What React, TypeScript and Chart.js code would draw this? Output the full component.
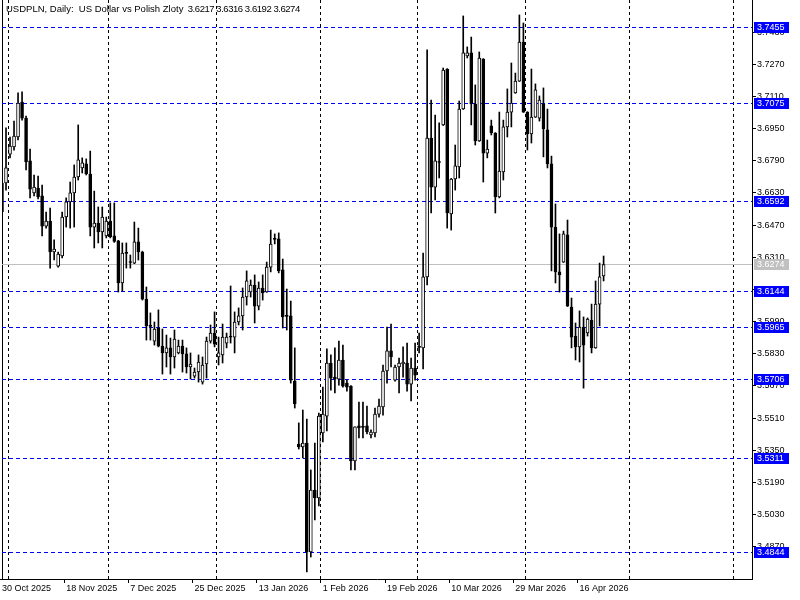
import React, { useEffect, useRef } from 'react';
import { Chart, registerables } from 'chart.js';

Chart.register(...registerables);

// ---------- data (USDPLN daily) ----------
const opens = [
  3.6679, 3.6679, 3.6823, 3.6858, 3.6908, 3.7082, 3.7002, 3.6789, 3.6630, 3.6654,
  3.6615, 3.6465, 3.6490, 3.6336, 3.6266, 3.6316, 3.6510, 3.6585, 3.6630, 3.6709,
  3.6754, 3.6774, 3.6724, 3.6460, 3.6480, 3.6436, 3.6416, 3.6490, 3.6416, 3.6391,
  3.6182, 3.6331, 3.6286, 3.6281, 3.6386, 3.6336, 3.6102, 3.5968, 3.5893, 3.5958,
  3.5868, 3.5834, 3.5859, 3.5814, 3.5834, 3.5868, 3.5829, 3.5764, 3.5719, 3.5739,
  3.5689, 3.5779, 3.5893, 3.5933, 3.5814, 3.5824, 3.5883, 3.5918, 3.5913, 3.5988,
  3.6018, 3.6112, 3.6137, 3.6172, 3.6067, 3.6157, 3.6137, 3.6261, 3.6401, 3.6401,
  3.6247, 3.6018, 3.6018, 3.5694, 3.5381, 3.5366, 3.5386, 3.4844, 3.5152, 3.5113,
  3.5436, 3.5520, 3.5784, 3.5714, 3.5704, 3.5799, 3.5684, 3.5669, 3.5297, 3.5471,
  3.5466, 3.5471, 3.5426, 3.5436, 3.5530, 3.5565, 3.5744, 3.5844, 3.5699, 3.5764,
  3.5779, 3.5784, 3.5679, 3.5759, 3.5864, 3.5859, 3.6212, 3.6903, 3.6659, 3.6784,
  3.6968, 3.7246, 3.6525, 3.6699, 3.6759, 3.7047, 3.7311, 3.7326, 3.7072, 3.6888,
  3.7296, 3.6828, 3.6963, 3.6928, 3.6610, 3.6734, 3.6958, 3.7032, 3.7127, 3.7186,
  3.7380, 3.7032, 3.6923, 3.7007, 3.7002, 3.7072, 3.6943, 3.6774, 3.6460, 3.6237,
  3.6286, 3.6421, 3.6062, 3.5918, 3.5864, 3.5963, 3.5933, 3.5998, 3.5859, 3.6077,
  3.6217,
];

const highs = [
  3.6719, 3.6953, 3.6908, 3.6987, 3.7127, 3.7132, 3.7012, 3.6848, 3.6719, 3.6714,
  3.6669, 3.6535, 3.6555, 3.6396, 3.6336, 3.6535, 3.6605, 3.6684, 3.6769, 3.6968,
  3.6804, 3.6799, 3.6838, 3.6639, 3.6560, 3.6560, 3.6510, 3.6580, 3.6580, 3.6394,
  3.6381, 3.6381, 3.6321, 3.6485, 3.6455, 3.6340, 3.6162, 3.6033, 3.5988, 3.6048,
  3.5953, 3.5923, 3.5908, 3.5948, 3.5898, 3.5898, 3.5859, 3.5834, 3.5759, 3.5824,
  3.5814, 3.5913, 3.5973, 3.6038, 3.5913, 3.5978, 3.5933, 3.6167, 3.6038, 3.6058,
  3.6157, 3.6242, 3.6197, 3.6222, 3.6187, 3.6222, 3.6286, 3.6445, 3.6426, 3.6431,
  3.6301, 3.6152, 3.6092, 3.5859, 3.5486, 3.5550, 3.5505, 3.5252, 3.5386, 3.5535,
  3.5664, 3.5854, 3.5824, 3.5859, 3.5893, 3.5873, 3.5699, 3.5672, 3.5466, 3.5590,
  3.5590, 3.5570, 3.5451, 3.5560, 3.5605, 3.5774, 3.5963, 3.5978, 3.5774, 3.5809,
  3.5864, 3.5883, 3.5809, 3.5883, 3.5933, 3.6331, 3.7341, 3.7092, 3.7017, 3.6978,
  3.7251, 3.7248, 3.6702, 3.6868, 3.7087, 3.7510, 3.7356, 3.7405, 3.7167, 3.7331,
  3.7298, 3.6893, 3.6992, 3.6930, 3.7032, 3.6992, 3.7147, 3.7276, 3.7226, 3.7515,
  3.7475, 3.7034, 3.7246, 3.7172, 3.7112, 3.7152, 3.7047, 3.6813, 3.6575, 3.6426,
  3.6440, 3.6495, 3.6107, 3.5983, 3.6043, 3.6013, 3.6008, 3.6077, 3.6192, 3.6281,
  3.6316,
];

const lows = [
  3.6520, 3.6644, 3.6804, 3.6843, 3.6893, 3.6992, 3.6744, 3.6605, 3.6615, 3.6600,
  3.6416, 3.6455, 3.6256, 3.6296, 3.6261, 3.6306, 3.6460, 3.6455, 3.6460, 3.6694,
  3.6729, 3.6719, 3.6416, 3.6356, 3.6381, 3.6356, 3.6406, 3.6406, 3.6384, 3.6137,
  3.6142, 3.6256, 3.6256, 3.6278, 3.6296, 3.6097, 3.5898, 3.5898, 3.5873, 3.5864,
  3.5729, 3.5764, 3.5729, 3.5759, 3.5829, 3.5739, 3.5734, 3.5704, 3.5709, 3.5689,
  3.5679, 3.5709, 3.5883, 3.5864, 3.5774, 3.5784, 3.5859, 3.5883, 3.5834, 3.5973,
  3.5948, 3.6072, 3.6112, 3.5983, 3.6048, 3.6097, 3.6135, 3.6237, 3.6376, 3.6232,
  3.5958, 3.5948, 3.5684, 3.5560, 3.5356, 3.5312, 3.4745, 3.4819, 3.5003, 3.5073,
  3.5391, 3.5446, 3.5649, 3.5635, 3.5674, 3.5664, 3.5644, 3.5252, 3.5252, 3.5411,
  3.5411, 3.5431, 3.5411, 3.5416, 3.5515, 3.5525, 3.5684, 3.5764, 3.5694, 3.5635,
  3.5714, 3.5644, 3.5595, 3.5699, 3.5834, 3.5754, 3.6172, 3.6530, 3.6595, 3.6704,
  3.6965, 3.6455, 3.6445, 3.6644, 3.6704, 3.7045, 3.7301, 3.6968, 3.6868, 3.6886,
  3.6684, 3.6804, 3.6918, 3.6530, 3.6605, 3.6694, 3.6908, 3.6958, 3.7125, 3.7184,
  3.7030, 3.6843, 3.6878, 3.7005, 3.6987, 3.6809, 3.6754, 3.6242, 3.6182, 3.6137,
  3.6284, 3.6065, 3.5859, 3.5799, 3.5789, 3.5659, 3.5918, 3.5834, 3.5857, 3.5968,
  3.6192,
];

const closes = [
  3.6535, 3.6754, 3.6863, 3.6913, 3.7077, 3.7002, 3.6784, 3.6649, 3.6659, 3.6610,
  3.6465, 3.6490, 3.6336, 3.6351, 3.6326, 3.6510, 3.6585, 3.6630, 3.6709, 3.6794,
  3.6779, 3.6724, 3.6460, 3.6480, 3.6436, 3.6510, 3.6490, 3.6411, 3.6388, 3.6182,
  3.6331, 3.6329, 3.6284, 3.6386, 3.6336, 3.6102, 3.5968, 3.5966, 3.5953, 3.5868,
  3.5834, 3.5859, 3.5814, 3.5903, 3.5868, 3.5829, 3.5764, 3.5779, 3.5739, 3.5789,
  3.5774, 3.5893, 3.5933, 3.5878, 3.5834, 3.5913, 3.5913, 3.5913, 3.5988, 3.6018,
  3.6112, 3.6192, 3.6172, 3.6067, 3.6157, 3.6132, 3.6261, 3.6376, 3.6399, 3.6242,
  3.6013, 3.6016, 3.5699, 3.5580, 3.5366, 3.5386, 3.4844, 3.5152, 3.5113, 3.5520,
  3.5530, 3.5784, 3.5709, 3.5704, 3.5799, 3.5669, 3.5664, 3.5297, 3.5466, 3.5461,
  3.5464, 3.5441, 3.5441, 3.5530, 3.5570, 3.5744, 3.5844, 3.5814, 3.5764, 3.5784,
  3.5789, 3.5679, 3.5759, 3.5724, 3.5862, 3.6212, 3.6903, 3.6659, 3.6789, 3.6781,
  3.7241, 3.6530, 3.6699, 3.6764, 3.7047, 3.7326, 3.7326, 3.7072, 3.6888, 3.7301,
  3.6828, 3.6848, 3.6928, 3.6610, 3.6739, 3.6958, 3.7032, 3.7077, 3.7186, 3.7380,
  3.7032, 3.6923, 3.7007, 3.7142, 3.7092, 3.6948, 3.6774, 3.6460, 3.6237, 3.6222,
  3.6426, 3.6067, 3.5913, 3.5864, 3.5963, 3.5873, 3.6003, 3.5859, 3.6077, 3.6212,
  3.6274,
];

const yTickValues = [
  3.4870, 3.5030, 3.5190, 3.5350, 3.5510, 3.5670, 3.5830, 3.5990, 3.6150,
  3.6310, 3.6470, 3.6630, 3.6790, 3.6950, 3.7110, 3.7270, 3.7430,
];

const xTickLabels = [
  '30 Oct 2025', '18 Nov 2025', '7 Dec 2025', '25 Dec 2025', '13 Jan 2026',
  '1 Feb 2026', '19 Feb 2026', '10 Mar 2026', '29 Mar 2026', '16 Apr 2026',
];

const levelPrices = [3.7455, 3.7075, 3.6592, 3.6144, 3.5965, 3.5706, 3.5311, 3.4844];
const bidPrice = 3.6274;
const titleName = 'USDPLN, Daily:  US Dollar vs Polish Zloty';
const titlePrices = ['3.6217', '3.6316', '3.6192', '3.6274'];

// ---------- axis / layout constants ----------
const TOTAL_SLOTS = 188; // daily slots shown on the time axis (incl. empty future space)
const Y_MIN = 3.47097;
const Y_MAX = 3.75893;
const FONT = 'Liberation Sans';
const LEVEL_BLUE = '#0000ff';
const BID_GRAY = '#c0c0c0';

const MONTHS = ['Jan', 'Feb', 'Mar', 'Apr', 'May', 'Jun', 'Jul', 'Aug', 'Sep', 'Oct', 'Nov', 'Dec'];

// broker sessions: Sunday..Friday (no Saturday bars)
function buildCalendar() {
  const labels: string[] = [];
  const months: number[] = [];
  let t = Date.UTC(2025, 9, 30);
  while (labels.length < TOTAL_SLOTS) {
    const d = new Date(t);
    if (d.getUTCDay() !== 6) {
      labels.push(`${d.getUTCDate()} ${MONTHS[d.getUTCMonth()]} ${d.getUTCFullYear()}`);
      months.push(d.getUTCMonth());
    }
    t += 86400000;
  }
  return { labels, months };
}

const levelPlugin = {
  id: 'mtLevels',
  beforeDatasetsDraw(chart: any) {
    const { ctx, chartArea, scales } = chart;
    const ys = scales.y;
    ctx.save();
    ctx.lineWidth = 1;
    // left frame
    ctx.strokeStyle = '#000';
    ctx.setLineDash([]);
    const lx = Math.round(chartArea.left) + 0.5;
    ctx.beginPath();
    ctx.moveTo(lx, chartArea.top);
    ctx.lineTo(lx, chartArea.bottom);
    ctx.stroke();
    // bottom frame continues to the left edge
    const bx = Math.round(chartArea.bottom) + 0.5;
    ctx.beginPath();
    ctx.moveTo(0, bx);
    ctx.lineTo(chartArea.left, bx);
    ctx.stroke();
    // bid line
    const by = Math.round(ys.getPixelForValue(bidPrice)) + 0.5;
    ctx.strokeStyle = BID_GRAY;
    ctx.beginPath();
    ctx.moveTo(chartArea.left, by);
    ctx.lineTo(chartArea.right, by);
    ctx.stroke();
    // horizontal levels
    ctx.strokeStyle = LEVEL_BLUE;
    ctx.setLineDash([4, 3]);
    levelPrices.forEach((p) => {
      const y = Math.round(ys.getPixelForValue(p)) + 0.5;
      ctx.beginPath();
      ctx.moveTo(chartArea.left, y);
      ctx.lineTo(chartArea.right, y);
      ctx.stroke();
    });
    ctx.restore();
  },
  afterDraw(chart: any) {
    const { ctx, chartArea, scales } = chart;
    const ys = scales.y;
    ctx.save();
    ctx.font = `9px "${FONT}"`;
    ctx.textBaseline = 'middle';
    ctx.textAlign = 'left';
    const drawTag = (p: number, bg: string) => {
      const y = Math.round(ys.getPixelForValue(p));
      ctx.fillStyle = bg;
      ctx.fillRect(chartArea.right + 2, y - 5, 35, 11);
      ctx.fillStyle = '#ffffff';
      ctx.fillText(p.toFixed(4), chartArea.right + 5, y + 0.5);
    };
    drawTag(bidPrice, BID_GRAY);
    levelPrices.forEach((p) => drawTag(p, LEVEL_BLUE));
    ctx.restore();
  },
};

export default function App() {
  const canvasRef = useRef<HTMLCanvasElement | null>(null);

  useEffect(() => {
    document.body.style.margin = '0';
    const canvas = canvasRef.current;
    if (!canvas) return;
    const { labels, months } = buildCalendar();
    const isMonthStart = (i: number) => i > 0 && months[i] !== months[i - 1];
    const isLabelled = (i: number) => xTickLabels.includes(labels[i]);

    const chart = new Chart(canvas, {
      type: 'bar',
      data: {
        labels,
        datasets: [
          {
            label: 'body',
            data: opens.map((o, i) => [o, closes[i]]) as any,
            backgroundColor: (c: any) =>
              closes[c.dataIndex] >= opens[c.dataIndex] ? '#ffffff' : '#000000',
            borderColor: '#000000',
            borderWidth: 1,
            borderSkipped: false,
            barThickness: 3,
            minBarLength: 1,
            grouped: false,
            order: 0,
          } as any,
          {
            label: 'wick',
            data: lows.map((l, i) => [l, highs[i]]) as any,
            backgroundColor: '#000000',
            borderWidth: 0,
            barThickness: 1,
            grouped: false,
            order: 1,
          } as any,
        ],
      },
      options: {
        responsive: false,
        animation: false,
        devicePixelRatio: 1,
        layout: { padding: { left: 2, right: 0, top: 0, bottom: 0 } },
        plugins: {
          legend: { display: false },
          tooltip: { enabled: false },
          title: { display: false },
        },
        events: [],
        scales: {
          x: {
            type: 'category',
            offset: false,
            afterFit: (s: any) => {
              s.height = 21;
              s.paddingLeft = 0;
              s.paddingRight = 0;
            },
            ticks: {
              autoSkip: false,
              maxRotation: 0,
              minRotation: 0,
              align: 'start',
              padding: 0,
              color: '#000',
              font: { family: FONT, size: 9 },
              callback: (_v: any, i: number) => (isLabelled(i) ? labels[i] : ''),
            },
            grid: {
              display: true,
              drawOnChartArea: true,
              drawTicks: true,
              tickLength: 4,
              lineWidth: 1,
              color: (c: any) => (isMonthStart(c.index) ? '#000000' : 'rgba(0,0,0,0)'),
              tickColor: (c: any) => (isLabelled(c.index) ? '#000000' : 'rgba(0,0,0,0)'),
            },
            border: { display: true, color: '#000', width: 1, dash: [3, 3] },
          } as any,
          y: {
            position: 'right',
            min: Y_MIN,
            max: Y_MAX,
            afterBuildTicks: (s: any) => {
              s.ticks = yTickValues.map((v) => ({ value: v }));
            },
            afterFit: (s: any) => {
              s.width = 48;
              s.paddingTop = 0;
              s.paddingBottom = 0;
            },
            ticks: {
              color: '#000',
              padding: 1,
              font: { family: FONT, size: 9 },
              callback: (v: any) => Number(v).toFixed(4),
            },
            grid: {
              display: true,
              drawOnChartArea: false,
              drawTicks: true,
              tickLength: 4,
              tickColor: '#000',
            },
            border: { display: true, color: '#000', width: 1 },
          } as any,
        },
      },
      plugins: [levelPlugin],
    });

    return () => chart.destroy();
  }, []);

  return (
    <div
      style={{
        position: 'fixed',
        left: 0,
        top: 0,
        width: 800,
        height: 600,
        background: '#ffffff',
      }}
    >
      <canvas ref={canvasRef} width={800} height={600} style={{ display: 'block' }} />
      <div
        style={{
          position: 'absolute',
          left: 6,
          top: 3,
          fontFamily: FONT,
          fontSize: 9.5,
          lineHeight: '11px',
          whiteSpace: 'pre',
          color: '#000',
        }}
      >
        <span>{titleName}</span>
        <span style={{ letterSpacing: '-0.45px' }}>{'  ' + titlePrices.join(' ')}</span>
      </div>
    </div>
  );
}
